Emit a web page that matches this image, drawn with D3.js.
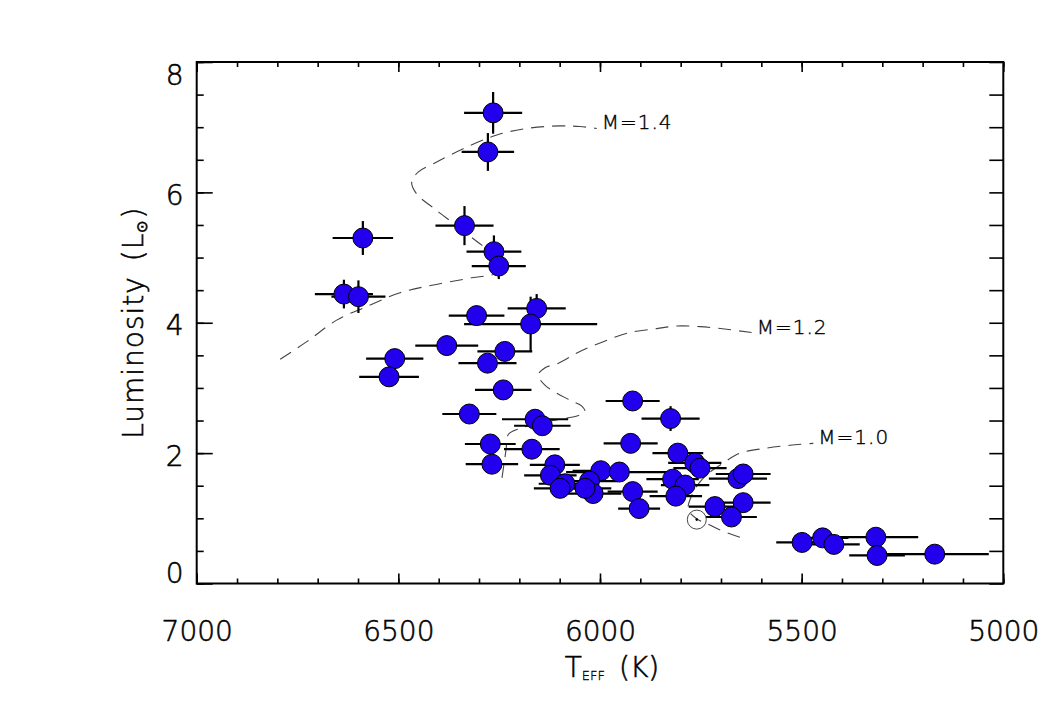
<!DOCTYPE html>
<html>
<head>
<meta charset="utf-8">
<script src="https://cdn.jsdelivr.net/npm/d3@7"></script>
<style>
	body { margin: 0; background: #fff; }
	text { font-family: "DejaVu Sans", sans-serif; font-weight: 200; fill: #000; stroke: #000; stroke-width: 0.55; }
	.axis path { display: none; }
	.axis line { stroke: #000; stroke-width: 1.6; }
	.err { stroke: #000; stroke-width: 2.2; }
	.star { fill: #2200ee; stroke: #000; stroke-width: 1; }
	.track { fill: none; stroke: #444; stroke-width: 1.1; stroke-dasharray: 13 8; }
</style>
</head>
<body>
<div class="hr-diagram"></div>
<script>

// stars
const teff = [6265, 6278, 6588, 6336, 6263, 6251, 6635, 6599, 6306, 6157, 6172, 6236, 6380, 6279, 6509, 6523, 6240, 6324, 6161, 6143, 6272, 6169, 6268, 5919, 5825, 5924, 5807, 6112, 6123, 6087, 6099, 5998, 5952, 6026, 6017, 6037, 5919, 5903, 5820, 5789, 5812, 5765, 5752, 5658, 5645, 5645, 5715, 5674, 5499, 5448, 5420, 5316, 5313, 5170];
const lum = [7.22, 6.62, 5.30, 5.49, 5.09, 4.87, 4.44, 4.40, 4.11, 4.22, 3.98, 3.56, 3.65, 3.38, 3.45, 3.17, 2.97, 2.60, 2.52, 2.42, 2.14, 2.06, 1.83, 2.80, 2.53, 2.15, 2.00, 1.82, 1.66, 1.53, 1.46, 1.73, 1.71, 1.57, 1.38, 1.46, 1.41, 1.15, 1.60, 1.51, 1.34, 1.85, 1.77, 1.61, 1.68, 1.24, 1.18, 1.02, 0.63, 0.70, 0.60, 0.71, 0.43, 0.45];
const teffErr = [72, 65, 75, 72, 68, 67, 72, 67, 69, 72, 165, 68, 78, 72, 71, 74, 70, 67, 82, 70, 63, 69, 65, 67, 72, 67, 63, 62, 65, 65, 65, 70, 132, 70, 70, 65, 62, 52, 65, 60, 65, 66, 66, 72, 68, 68, 65, 63, 64, 64, 64, 105, 69, 134];
const lumErr = [0.32, 0.29, 0.26, 0.30, 0.25, 0.20, 0.22, 0.25, 0.15, 0.22, 0.42, 0.10, 0.15, 0.12, 0.12, 0.12, 0.08, 0.08, 0.08, 0.08, 0.08, 0.08, 0.08, 0.08, 0.19, 0.08, 0.08, 0.08, 0.08, 0.08, 0.08, 0.08, 0.08, 0.08, 0.08, 0.08, 0.08, 0.08, 0.08, 0.08, 0.08, 0.08, 0.08, 0.08, 0.08, 0.08, 0.08, 0.08, 0.08, 0.08, 0.08, 0.08, 0.08, 0.08];

// the sun
const sunTeff = 5760;
const sunLum = 0.98;

// evolutionary tracks
const trackMass = ["1.4", "1.2", "1.0"];
const track14Teff = [6793, 6727, 6653, 6578, 6496, 6413, 6318, 6255, 6248, 6268, 6293, 6360, 6413, 6455, 6467, 6451, 6413, 6339, 6256, 6182, 6099, 6050, 6008];
const track14Lum = [3.44, 3.71, 4.04, 4.25, 4.46, 4.58, 4.69, 4.77, 4.93, 5.08, 5.19, 5.51, 5.76, 5.98, 6.16, 6.31, 6.44, 6.67, 6.88, 6.98, 7.02, 7.01, 6.98];
const track12Teff = [6243, 6233, 6227, 6203, 6149, 6099, 6057, 6037, 6045, 6074, 6136, 6153, 6136, 6103, 6050, 5992, 5926, 5859, 5810, 5752, 5686, 5624];
const track12Lum = [1.62, 2.05, 2.29, 2.37, 2.46, 2.52, 2.57, 2.63, 2.72, 2.81, 3.04, 3.20, 3.31, 3.38, 3.56, 3.71, 3.85, 3.91, 3.95, 3.94, 3.90, 3.85];
const track10Teff = [5653, 5702, 5735, 5757, 5781, 5772, 5752, 5727, 5694, 5653, 5595, 5529, 5471];
const track10Lum = [0.71, 0.82, 0.92, 0.98, 1.13, 1.36, 1.56, 1.71, 1.85, 2.00, 2.07, 2.12, 2.15];

// axes
const xTicks = [7000, 6500, 6000, 5500, 5000];
const yTicks = [0, 2, 4, 6, 8];

const svg = d3.select(".hr-diagram")
				.append("svg")
				.attr("width", 1063)
				.attr("height", 709);

const box = { left: 196.7, right: 1003.3, top: 62, bottom: 583.5 };

const x = d3.scaleLinear().domain([7000, 5000]).range([box.left, box.right]);
const y = d3.scaleLinear().domain([0, 8]).range([box.bottom, box.top]);

// tracks
const tracks = [
	{ mass: trackMass[0], teff: track14Teff, lum: track14Lum },
	{ mass: trackMass[1], teff: track12Teff, lum: track12Lum },
	{ mass: trackMass[2], teff: track10Teff, lum: track10Lum }
];

const line = d3.line()
				.x((d) => x(d[0]))
				.y((d) => y(d[1]))
				.curve(d3.curveCatmullRom);

svg.selectAll(".track")
		.data(tracks).enter()
	.append("path")
		.attr("class", "track")
		.attr("d", (t) => line(t.teff.map((v, i) => [v, t.lum[i]])));

svg.selectAll(".track-label")
		.data(tracks).enter()
	.append("text")
		.attr("class", "track-label")
		.attr("x", (t) => x(t.teff[t.teff.length - 1]) + 5)
		.attr("y", (t) => y(t.lum[t.lum.length - 1]) + 1)
		.style("font-size", "20px")
		.style("stroke-width", 0.4)
		.style("letter-spacing", "1px")
		.text((t) => "M=" + t.mass);

// error bars
const stars = teff.map((t, i) => ({ t, l: lum[i], dt: teffErr[i], dl: lumErr[i] }));

svg.selectAll(".xerr")
		.data(stars).enter()
	.append("line")
		.attr("class", "err")
		.attr("x1", (d) => x(d.t + d.dt))
		.attr("x2", (d) => x(d.t - d.dt))
		.attr("y1", (d) => y(d.l))
		.attr("y2", (d) => y(d.l));

svg.selectAll(".yerr")
		.data(stars).enter()
	.append("line")
		.attr("class", "err")
		.attr("x1", (d) => x(d.t))
		.attr("x2", (d) => x(d.t))
		.attr("y1", (d) => y(d.l - d.dl))
		.attr("y2", (d) => y(d.l + d.dl));

svg.selectAll(".star")
		.data(stars).enter()
	.append("circle")
		.attr("class", "star")
		.attr("cx", (d) => x(d.t))
		.attr("cy", (d) => y(d.l))
		.attr("r", 10);

// sun symbol
svg.append("circle")
	.attr("cx", x(sunTeff))
	.attr("cy", y(sunLum))
	.attr("r", 9.5)
	.style("fill", "none")
	.style("stroke", "#333")
	.style("stroke-width", 0.9);

svg.append("circle")
	.attr("cx", x(sunTeff))
	.attr("cy", y(sunLum))
	.attr("r", 1.3)
	.style("fill", "#000");

// frame
svg.append("rect")
	.attr("x", box.left)
	.attr("y", box.top)
	.attr("width", box.right - box.left)
	.attr("height", box.bottom - box.top)
	.style("fill", "none")
	.style("stroke", "#000")
	.style("stroke-width", 2);

const minorX = d3.range(7000, 4999, -100);
const minorY = d3.range(0, 8.01, 0.5);

svg.append("g").attr("class", "axis")
	.attr("transform", `translate(0,${box.bottom})`)
	.call(d3.axisBottom(x).tickValues(minorX).tickSize(-5).tickFormat(""));

const bottom = svg.append("g").attr("class", "axis")
	.attr("transform", `translate(0,${box.bottom})`)
	.call(d3.axisBottom(x).tickValues(xTicks).tickSize(-10).tickPadding(38).tickFormat(d3.format("d")));

bottom.selectAll("text").style("font-size", "28px");

svg.append("g").attr("class", "axis")
	.attr("transform", `translate(0,${box.top})`)
	.call(d3.axisTop(x).tickValues(minorX).tickSize(-5).tickFormat(""));

svg.append("g").attr("class", "axis")
	.attr("transform", `translate(0,${box.top})`)
	.call(d3.axisTop(x).tickValues(xTicks).tickSize(-10).tickFormat(""));

svg.append("g").attr("class", "axis")
	.attr("transform", `translate(${box.left},0)`)
	.call(d3.axisLeft(y).tickValues(minorY).tickSize(-7).tickFormat(""));

const left = svg.append("g").attr("class", "axis")
	.attr("transform", `translate(${box.left},0)`)
	.call(d3.axisLeft(y).tickValues(yTicks).tickSize(-16).tickPadding(13).tickFormat(d3.format("d")));

left.selectAll("text")
	.style("font-size", "28px")
	.attr("dy", (d) => d === 8 ? "0.8em" : d === 0 ? "-0.05em" : "0.43em");

svg.append("g").attr("class", "axis")
	.attr("transform", `translate(${box.right},0)`)
	.call(d3.axisRight(y).tickValues(minorY).tickSize(-14).tickFormat(""));

// titles
const xTitle = svg.append("text")
	.attr("x", (box.left + box.right) / 2 + 12)
	.attr("y", 677)
	.attr("text-anchor", "middle")
	.style("font-size", "28px");

xTitle.append("tspan").text("T");
xTitle.append("tspan").attr("dy", 3).style("font-size", "13px").style("stroke-width", 0.3).text("EFF");
xTitle.append("tspan").attr("dy", -3).text("\u2002(K)");

const yTitle = svg.append("text")
	.attr("transform", `translate(143,${(box.top + box.bottom) / 2}) rotate(-90)`)
	.attr("text-anchor", "middle")
	.style("font-size", "28px")
	.style("letter-spacing", "1px");

yTitle.append("tspan").text("Luminosity\u2002(L");
yTitle.append("tspan").attr("dy", 4).style("font-size", "15px").text("\u2299");
yTitle.append("tspan").attr("dy", -4).text(")");

</script>
</body>
</html>
